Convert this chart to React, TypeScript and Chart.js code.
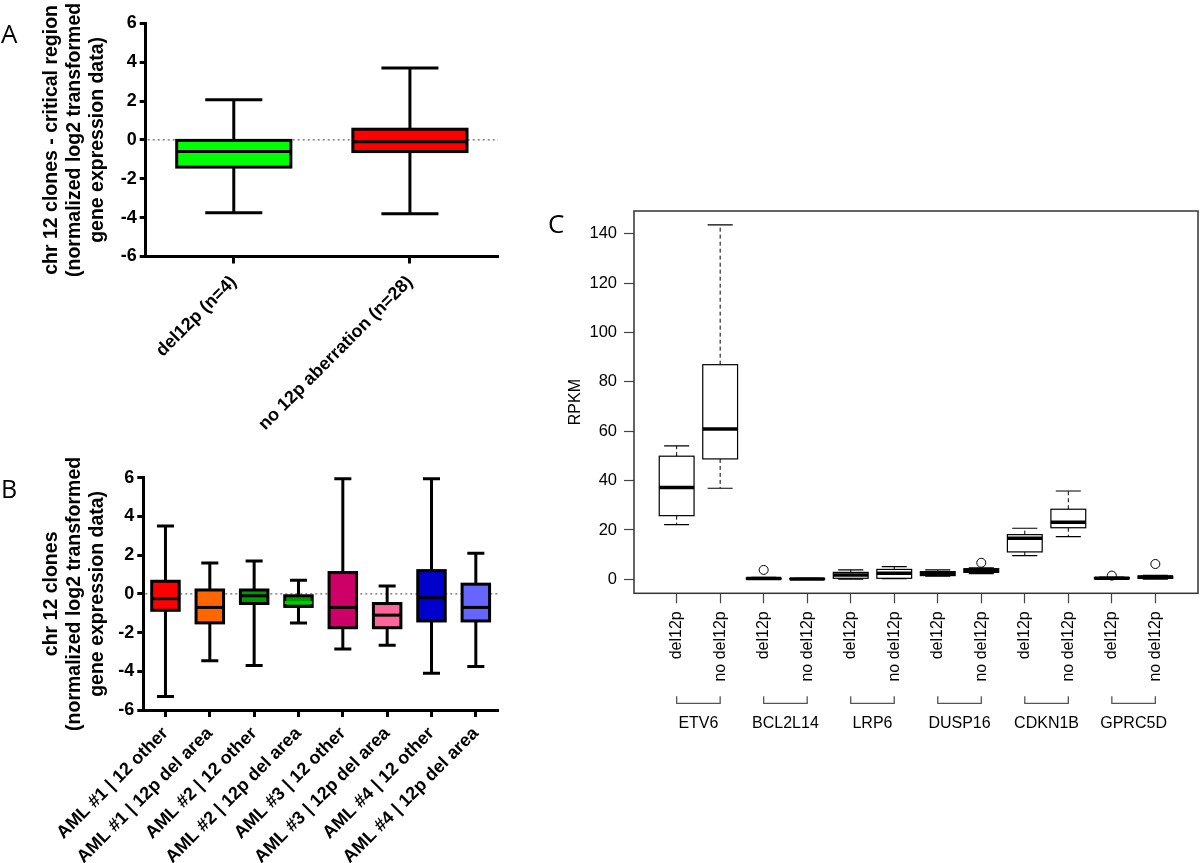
import React, { useEffect, useRef } from 'react';
import { Chart, registerables } from 'chart.js';

Chart.register(...registerables);

// ---------- Panel A data ----------
const aCategories = ['del12p (n=4)', 'no 12p aberration (n=28)'];
const aMin = [-3.75, -3.8];
const aQ1 = [-1.4, -0.6];
const aMedian = [-0.6, -0.1];
const aQ3 = [0.0, 0.55];
const aMax = [2.07, 3.7];
const aColors = ['#00FF00', '#FF0000'];

// ---------- Panel B data ----------
const bCategories = [
  'AML #1 | 12 other',
  'AML #1 | 12p del area',
  'AML #2 | 12 other',
  'AML #2 | 12p del area',
  'AML #3 | 12 other',
  'AML #3 | 12p del area',
  'AML #4 | 12 other',
  'AML #4 | 12p del area',
];
const bMin = [-5.3, -3.45, -3.7, -1.5, -2.85, -2.65, -4.1, -3.75];
const bQ1 = [-0.85, -1.5, -0.5, -0.65, -1.75, -1.75, -1.4, -1.4];
const bMedian = [-0.25, -0.7, -0.1, -0.45, -0.7, -1.1, -0.2, -0.7];
const bQ3 = [0.65, 0.2, 0.2, -0.1, 1.1, -0.5, 1.2, 0.5];
const bMax = [3.5, 1.6, 1.7, 0.7, 5.95, 0.4, 5.95, 2.1];
const bColors = ['#FF0000', '#FF6600', '#009900', '#009900', '#CC0066', '#FF6699', '#0000CC', '#6666FF'];
const bMedianColors = ['#000', '#000', '#000', '#00CC00', '#000', '#000', '#000', '#000'];

const abTicks = [-6, -4, -2, 0, 2, 4, 6];
const abTitleA = ['chr 12 clones - critical region', '(normalized log2 transformed', 'gene expression data)'];
const abTitleB = ['chr 12 clones', '(normalized log2 transformed', 'gene expression data)'];

// ---------- Panel C data ----------
const cCategories = [
  'del12p', 'no del12p',
  'del12p', 'no del12p',
  'del12p', 'no del12p',
  'del12p', 'no del12p',
  'del12p', 'no del12p',
  'del12p', 'no del12p',
];
const cGenes = ['ETV6', 'BCL2L14', 'LRP6', 'DUSP16', 'CDKN1B', 'GPRC5D'];
const cMin = [22.2, 36.9, 0.0, 0.0, 0.05, 0.25, 1.3, 2.3, 9.6, 17.3, 0.0, 0.1];
const cQ1 = [25.8, 48.8, 0.1, 0.05, 0.4, 0.4, 1.5, 2.8, 11.1, 20.9, 0.2, 0.4];
const cMedian = [37.2, 60.9, 0.3, 0.15, 1.7, 2.4, 2.3, 3.6, 16.6, 23.1, 0.4, 0.9];
const cQ3 = [49.9, 87.0, 0.5, 0.3, 2.8, 4.0, 3.1, 4.3, 18.1, 28.4, 0.7, 1.3];
const cMax = [54.1, 143.7, 0.8, 0.4, 3.8, 5.1, 3.8, 4.6, 20.7, 35.8, 0.9, 1.6];
const cOutliers = [[], [], [3.8], [], [], [], [], [6.7], [], [], [1.5], [6.2]];
const cTicks = [0, 20, 40, 60, 80, 100, 120, 140];

// ---------- plugins ----------
function makeBoxPlugin(cfg: any) {
  return {
    id: 'boxWhisker',
    afterDatasetsDraw(chart: any) {
      const ctx = chart.ctx;
      const yScale = chart.scales.y;
      const meta = chart.getDatasetMeta(0);
      ctx.save();
      ctx.lineCap = 'butt';
      meta.data.forEach((el: any, i: number) => {
        const p = el.getProps(['x', 'y', 'base', 'width'], true);
        const half = p.width / 2;
        const capHalf = half * cfg.capRatio;
        const top = Math.min(p.y, p.base);
        const bottom = Math.max(p.y, p.base);
        const yMax = yScale.getPixelForValue(cfg.max[i]);
        const yMin = yScale.getPixelForValue(cfg.min[i]);
        const yMed = yScale.getPixelForValue(cfg.median[i]);
        ctx.strokeStyle = cfg.lineColor;
        ctx.lineWidth = cfg.whiskerWidth;
        ctx.setLineDash(cfg.dash);
        ctx.beginPath();
        ctx.moveTo(p.x, top);
        ctx.lineTo(p.x, yMax);
        ctx.moveTo(p.x, bottom);
        ctx.lineTo(p.x, yMin);
        ctx.stroke();
        ctx.setLineDash([]);
        ctx.lineWidth = cfg.capWidth;
        ctx.beginPath();
        ctx.moveTo(p.x - capHalf, yMax);
        ctx.lineTo(p.x + capHalf, yMax);
        ctx.moveTo(p.x - capHalf, yMin);
        ctx.lineTo(p.x + capHalf, yMin);
        ctx.stroke();
        // box outline, centred on the quartile edges
        ctx.lineWidth = cfg.boxWidth;
        ctx.lineJoin = 'miter';
        ctx.strokeRect(p.x - half, top, p.width, bottom - top);
        ctx.strokeStyle = cfg.medianColors ? cfg.medianColors[i] : cfg.lineColor;
        ctx.lineWidth = cfg.medianWidth;
        ctx.beginPath();
        ctx.moveTo(p.x - half, yMed);
        ctx.lineTo(p.x + half, yMed);
        ctx.stroke();
        if (cfg.outliers) {
          ctx.lineWidth = 1;
          ctx.strokeStyle = cfg.lineColor;
          cfg.outliers[i].forEach((v: number) => {
            ctx.beginPath();
            ctx.arc(p.x, yScale.getPixelForValue(v), 4.5, 0, Math.PI * 2);
            ctx.stroke();
          });
        }
      });
      ctx.restore();
    },
  };
}

const zeroLinePlugin = {
  id: 'zeroLine',
  beforeDatasetsDraw(chart: any) {
    const { ctx, chartArea } = chart;
    const y = chart.scales.y.getPixelForValue(0);
    ctx.save();
    ctx.strokeStyle = '#666';
    ctx.lineWidth = 1.2;
    ctx.setLineDash([2, 3]);
    ctx.beginPath();
    ctx.moveTo(chartArea.left + 2, y);
    ctx.lineTo(chartArea.right, y);
    ctx.stroke();
    ctx.restore();
  },
};

function makePanelLetter(letter: string, x: number, y: number, size: number) {
  return {
    id: 'panelLetter',
    afterDraw(chart: any) {
      const ctx = chart.ctx;
      ctx.save();
      ctx.fillStyle = '#000';
      ctx.font = `${size}px "Open Sans", "DejaVu Sans", sans-serif`;
      ctx.textAlign = 'left';
      ctx.textBaseline = 'alphabetic';
      ctx.fillText(letter, x, y);
      ctx.restore();
    },
  };
}

const cDecorPlugin = {
  id: 'cDecor',
  afterDraw(chart: any) {
    const { ctx, chartArea } = chart;
    const xs = chart.scales.x;
    ctx.save();
    ctx.strokeStyle = '#333';
    ctx.lineWidth = 1.5;
    ctx.strokeRect(chartArea.left, chartArea.top, chartArea.right - chartArea.left, chartArea.bottom - chartArea.top);
    ctx.strokeStyle = '#555';
    ctx.lineWidth = 1.3;
    ctx.fillStyle = '#000';
    ctx.font = '16px "Liberation Sans", Arial, sans-serif';
    ctx.textAlign = 'center';
    ctx.textBaseline = 'middle';
    cGenes.forEach((g, gi) => {
      const x1 = xs.getPixelForValue(gi * 2 + 1);
      const x2 = xs.getPixelForValue(gi * 2 + 2);
      const yTop = chartArea.bottom + 103;
      const yBot = chartArea.bottom + 110;
      ctx.beginPath();
      ctx.moveTo(x1, yTop);
      ctx.lineTo(x1, yBot);
      ctx.lineTo(x2, yBot);
      ctx.lineTo(x2, yTop);
      ctx.stroke();
      ctx.fillText(g, (x1 + x2) / 2, chartArea.bottom + 130);
    });
    ctx.restore();
  },
};

// ---------- configs ----------
const boldFont = (size: number) => ({ family: '"Liberation Sans", Arial, sans-serif', weight: 'bold' as const, size });

function abConfig(opts: any) {
  const { labels, q1, q3, colors, canvasH, top, axisX, bottom, right, canvasW, title, boxPct, labelPad } = opts;
  return {
    type: 'bar' as const,
    data: {
      labels,
      datasets: [
        {
          data: q1.map((v: number, i: number) => [v, q3[i]]),
          backgroundColor: colors,
          borderWidth: 0,
          barPercentage: boxPct,
          categoryPercentage: 1,
        },
      ],
    },
    options: {
      responsive: false,
      animation: false,
      events: [],
      layout: { padding: { left: 0, top, right: canvasW - right, bottom: 0 } },
      plugins: { legend: { display: false }, tooltip: { enabled: false } },
      scales: {
        x: {
          offset: true,
          grid: { display: true, drawOnChartArea: false, drawTicks: true, tickLength: 7, tickWidth: 3, tickColor: '#000', offset: false },
          border: { display: true, color: '#000', width: 3 },
          ticks: { color: '#000', font: boldFont(18), minRotation: 45, maxRotation: 45, autoSkip: false, padding: labelPad },
          afterFit: (s: any) => {
            s.height = canvasH - bottom;
          },
        },
        y: {
          min: -6,
          max: 6,
          afterBuildTicks: (s: any) => {
            s.ticks = abTicks.map((v) => ({ value: v }));
          },
          grid: { display: true, drawOnChartArea: false, drawTicks: true, tickLength: 6, tickWidth: 3, tickColor: '#000' },
          border: { display: true, color: '#000', width: 3 },
          ticks: { color: '#000', font: boldFont(18), padding: 3 },
          title: {
            display: true,
            text: title,
            color: '#000',
            font: { family: '"Liberation Sans", Arial, sans-serif', weight: 'bold', size: 19.5, lineHeight: 23 / 19.5 },
            padding: { top: 40.5, bottom: 0 },
          },
          afterFit: (s: any) => {
            s.width = axisX;
          },
        },
      },
    },
  };
}

const configA = () => ({
  ...abConfig({
    labels: aCategories,
    q1: aQ1,
    q3: aQ3,
    colors: aColors,
    canvasW: 530,
    canvasH: 440,
    top: 23.3,
    axisX: 145.7,
    bottom: 256.5,
    right: 498,
    title: abTitleA,
    boxPct: 0.648,
    labelPad: 8,
  }),
  plugins: [
    zeroLinePlugin,
    makeBoxPlugin({ min: aMin, max: aMax, median: aMedian, capRatio: 0.5, lineColor: '#000', whiskerWidth: 3, capWidth: 3, boxWidth: 3, medianWidth: 3, dash: [] }),
    makePanelLetter('A', 1, 43.3, 26),
  ],
});

const configB = () => ({
  ...abConfig({
    labels: bCategories,
    q1: bQ1,
    q3: bQ3,
    colors: bColors,
    canvasW: 530,
    canvasH: 423,
    top: 37.7,
    axisX: 143.3,
    bottom: 270,
    right: 498,
    title: abTitleB,
    boxPct: 0.62,
    labelPad: 6,
  }),
  plugins: [
    zeroLinePlugin,
    makeBoxPlugin({ min: bMin, max: bMax, median: bMedian, medianColors: bMedianColors, capRatio: 0.62, lineColor: '#000', whiskerWidth: 3, capWidth: 3, boxWidth: 3, medianWidth: 3, dash: [] }),
    makePanelLetter('B', 1, 58.3, 25),
  ],
});

const configC = () => ({
  type: 'bar' as const,
  data: {
    datasets: [
      {
        data: cQ1.map((v, i) => ({ x: i + 1, y: [v, cQ3[i]] })),
        backgroundColor: '#FFFFFF',
        borderWidth: 0,
        barPercentage: 0.8,
        categoryPercentage: 1,
      },
    ],
  },
  options: {
    responsive: false,
    animation: false,
    events: [],
    layout: { padding: { left: 0, top: 41, right: 2, bottom: 0 } },
    plugins: { legend: { display: false }, tooltip: { enabled: false } },
    scales: {
      x: {
        type: 'linear' as const,
        offset: false,
        min: 0.02,
        max: 12.98,
        afterBuildTicks: (s: any) => {
          s.ticks = cCategories.map((_, i) => ({ value: i + 1 }));
        },
        grid: { display: true, drawOnChartArea: false, drawTicks: true, tickLength: 10, tickWidth: 1.2, tickColor: '#444', offset: false },
        border: { display: false },
        ticks: {
          color: '#000',
          font: { family: '"Liberation Sans", Arial, sans-serif', size: 16 },
          minRotation: 90,
          maxRotation: 90,
          autoSkip: false,
          padding: 8,
          callback: (v: any) => cCategories[Math.round(v) - 1],
        },
        afterFit: (s: any) => {
          s.height = 600 - 423.3;
        },
      },
      y: {
        type: 'linear' as const,
        min: -5.68,
        max: 149.3,
        afterBuildTicks: (s: any) => {
          s.ticks = cTicks.map((v) => ({ value: v }));
        },
        grid: { display: true, drawOnChartArea: false, drawTicks: true, tickLength: 10, tickWidth: 1.2, tickColor: '#444' },
        border: { display: false },
        ticks: { color: '#000', font: { family: '"Liberation Sans", Arial, sans-serif', size: 16.5 }, padding: 7 },
        title: {
          display: true,
          text: 'RPKM',
          color: '#000',
          font: { family: '"Liberation Sans", Arial, sans-serif', size: 16, lineHeight: 1.2 },
          padding: { top: 26, bottom: 0 },
        },
        afterFit: (s: any) => {
          s.width = 94;
        },
      },
    },
  },
  plugins: [
    makeBoxPlugin({ min: cMin, max: cMax, median: cMedian, outliers: cOutliers, capRatio: 0.72, lineColor: '#000', whiskerWidth: 1, capWidth: 1.2, boxWidth: 1.2, medianWidth: 3.5, dash: [4, 3] }),
    cDecorPlugin,
    makePanelLetter('C', 8, 63, 26),
  ],
});

function ChartBox({ make, left, top, width, height }: any) {
  const ref = useRef<HTMLCanvasElement | null>(null);
  useEffect(() => {
    const chart = new Chart(ref.current as HTMLCanvasElement, make());
    return () => chart.destroy();
  }, []);
  return (
    <div style={{ position: 'absolute', left, top, width, height }}>
      <canvas ref={ref} width={width} height={height} style={{ display: 'block', width, height }} />
    </div>
  );
}

export default function App() {
  return (
    <div style={{ position: 'absolute', left: 0, top: 0, width: 1200, height: 863, background: '#fff', overflow: 'hidden' }}>
      <ChartBox make={configA} left={0} top={0} width={530} height={440} />
      <ChartBox make={configB} left={0} top={440} width={530} height={423} />
      <ChartBox make={configC} left={540} top={170} width={660} height={600} />
    </div>
  );
}
